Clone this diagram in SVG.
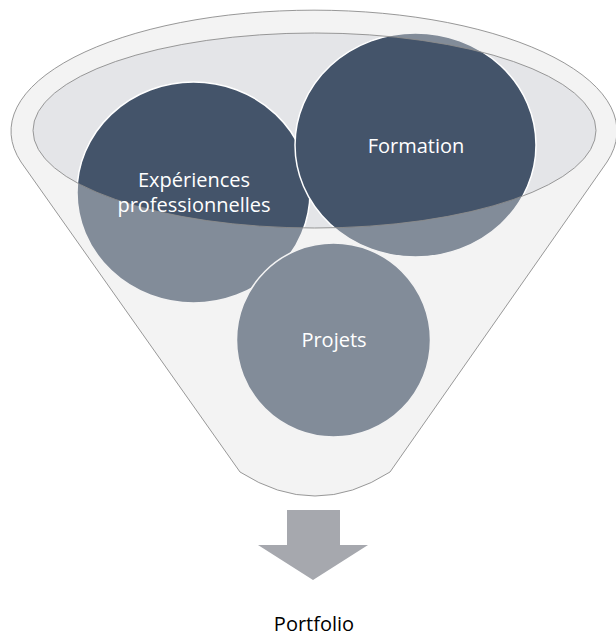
<svg xmlns="http://www.w3.org/2000/svg" width="616" height="640" viewBox="0 0 616 640">
  <style>
    .lbl { font-family: "Open Sans", "Noto Sans", "Liberation Sans", sans-serif; font-size: 20px; text-anchor: middle; fill: #ffffff; }
    .circ { fill: #44546A; stroke: #ffffff; stroke-width: 1.5; }
    .outline { fill: none; stroke: #8c8c8c; stroke-width: 0.9; }
  </style>
  <defs>
    <path id="outerShape" d="M 21,162 A 303 121 0 1 1 607,162 L 390,472 Q 315,520 240,472 Z"/>
    <path id="rimShape" d="M 33,130.5 A 281.5 97.5 0 1 0 596,130.5 A 281.5 97.5 0 1 0 33,130.5 Z"/>
  </defs>
  <rect width="616" height="640" fill="#ffffff"/>

  <g id="funnel-rim">
    <use href="#rimShape" fill="#e4e5e8"/>
  </g>

  <g id="node-experiences">
    <ellipse class="circ" cx="193.5" cy="192.5" rx="116.5" ry="110.5"/>
  </g>
  <g id="node-formation">
    <ellipse class="circ" cx="415.5" cy="145" rx="120.5" ry="112"/>
  </g>
  <g id="node-projets">
    <ellipse class="circ" cx="333.5" cy="340" rx="97" ry="97"/>
  </g>

  <g id="funnel-body">
    <path d="M 21,162 A 303 121 0 1 1 607,162 L 390,472 Q 315,520 240,472 Z M 33,130.5 A 281.5 97.5 0 1 0 596,130.5 A 281.5 97.5 0 1 0 33,130.5 Z" fill="#e1e1e1" fill-opacity="0.4" fill-rule="evenodd"/>
    <use href="#outerShape" class="outline"/>
    <use href="#rimShape" class="outline" stroke="#7a7a7a"/>
  </g>

  <g id="labels">
    <text class="lbl" x="194" y="187">Expériences</text>
    <text class="lbl" x="194" y="212">professionnelles</text>
    <text class="lbl" x="416" y="153">Formation</text>
    <text class="lbl" x="334" y="347" fill="#f2f2f2">Projets</text>
  </g>

  <g id="connectors">
    <path d="M 287,510 L 340,510 L 340,545 L 368,545 L 313,580 L 258,545 L 287,545 Z" fill="#a6a8ae"/>
  </g>

  <g id="node-portfolio">
    <text x="314" y="631" font-family="'Open Sans', 'Noto Sans', 'Liberation Sans', sans-serif" font-size="20" text-anchor="middle" fill="#000000">Portfolio</text>
  </g>
</svg>
